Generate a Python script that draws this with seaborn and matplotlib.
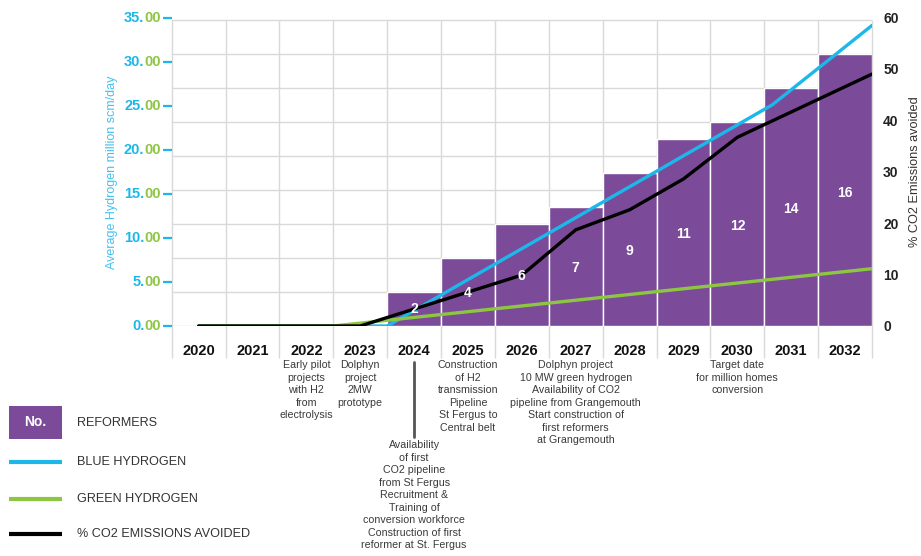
import matplotlib
matplotlib.use("Agg")
import matplotlib.pyplot as plt
import matplotlib.transforms as mtransforms
from matplotlib.patches import Rectangle
from matplotlib.lines import Line2D
import pandas as pd
import seaborn as sns

# ---------------- data ----------------
years = [2020, 2021, 2022, 2023, 2024, 2025, 2026, 2027, 2028, 2029, 2030, 2031, 2032]
reformer_years = [2024, 2025, 2026, 2027, 2028, 2029, 2030, 2031, 2032]
reformers = [2, 4, 6, 7, 9, 11, 12, 14, 16]

blue_x = [2020, 2023.5, 2030.65, 2032.5]
blue_h2 = [0.0, 0.0, 25.1, 34.1]

green_x = [2020, 2022.5, 2032.5]
green_h2 = [0.0, 0.0, 6.5]

co2_x = [2020, 2021, 2022, 2023, 2024, 2025, 2026, 2027, 2028, 2029, 2030, 2032.5]
co2_avoided = [0.0, 0.0, 0.0, 0.0, 3.3, 6.6, 9.9, 18.7, 22.6, 28.6, 36.7, 49.0]

h2_ticks = [0, 5, 10, 15, 20, 25, 30, 35]
co2_ticks = [0, 10, 20, 30, 40, 50, 60]
bar_grid = [0, 2, 4, 6, 8, 10, 12, 14, 16, 18]

milestone_years = [2022, 2023, 2024, 2025, 2027, 2030]
milestone_texts = [
    "Early pilot\nprojects\nwith H2\nfrom\nelectrolysis",
    "Dolphyn\nproject\n2MW\nprototype",
    "Availability\nof first\nCO2 pipeline\nfrom St Fergus\nRecruitment &\nTraining of\nconversion workforce\nConstruction of first\nreformer at St. Fergus",
    "Construction\nof H2\ntransmission\nPipeline\nSt Fergus to\nCentral belt",
    "Dolphyn project\n10 MW green hydrogen\nAvailability of CO2\npipeline from Grangemouth\nStart construction of\nfirst reformers\nat Grangemouth",
    "Target date\nfor million homes\nconversion",
]

legend_labels = ["REFORMERS", "BLUE HYDROGEN", "GREEN HYDROGEN", "% CO2 EMISSIONS AVOIDED"]

# ---------------- style ----------------
sns.set_style("white")
plt.rcParams["font.family"] = ["Liberation Sans", "DejaVu Sans"]

PURPLE = "#7b4b9a"
BLUE = "#1cb8ea"
GREEN = "#8dc641"
BLACK = "#000000"
GRID = "#d9d9d9"
TEXT = "#3a3a3a"

W, H = 921, 556
fig = plt.figure(figsize=(W / 100, H / 100), dpi=100)
ax_left_px, ax_right_px, ax_top_px, ax_bot_px = 171.7, 872.0, 17.5, 326.0
ax = fig.add_axes([ax_left_px / W, 1 - ax_bot_px / H,
                   (ax_right_px - ax_left_px) / W, (ax_bot_px - ax_top_px) / H])
ax_w_px = ax_right_px - ax_left_px
ax_h_px = ax_bot_px - ax_top_px

# ---------------- bars ----------------
df_bars = pd.DataFrame({"year": reformer_years, "reformers": reformers})
sns.barplot(data=df_bars, x="year", y="reformers", native_scale=True, width=1,
            color=PURPLE, saturation=1, edgecolor="white", linewidth=1,
            errorbar=None, ax=ax, zorder=2)
bar_top = max(bar_grid) * ax_h_px / (ax_h_px - 2.5)
ax.set_xlim(years[0] - 0.5, years[-1] + 0.5)
ax.set_ylim(0, bar_top)
ax.set_yticks(bar_grid)
ax.tick_params(axis="y", length=0, labelleft=False)
ax.yaxis.grid(True, color=GRID, lw=1)
ax.set_axisbelow(True)
for s in ax.spines.values():
    s.set_visible(False)
ax.set_xlabel("")
ax.set_ylabel("")

# vertical column separators (extend into the year row)
bounds = [y - 0.5 for y in years] + [years[-1] + 0.5]
ext = 32 / ax_h_px * bar_top
ax.vlines(bounds, -ext, max(bar_grid), colors=GRID, lw=1, zorder=0.5, clip_on=False)

# year labels
ax.set_xticks(years)
ax.set_xticklabels([str(y) for y in years], fontweight="bold", fontsize=10.5,
                   color="#111111")
ax.tick_params(axis="x", length=0, pad=13)

# ---------------- hydrogen axis (left) ----------------
ax_h = ax.twinx()
ax_h.set_ylim(0, 35)
ax_h.yaxis.set_ticks_position("left")
ax_h.set_yticks(h2_ticks)
ax_h.tick_params(axis="y", colors=BLUE, length=6.5, width=1.6,
                 labelleft=False, labelright=False)
for s in ax_h.spines.values():
    s.set_visible(False)
sns.lineplot(x=blue_x, y=blue_h2, ax=ax_h, color=BLUE, lw=2.4, zorder=3)
sns.lineplot(x=green_x, y=green_h2, ax=ax_h, color=GREEN, lw=2.4, zorder=4)
ax_h.set_xlabel("")
ax_h.set_ylabel("")

trans_h = mtransforms.blended_transform_factory(ax_h.transAxes, ax_h.transData)
for v in h2_ticks:
    ip, dp = f"{v:.2f}".split(".")
    t = ax_h.text(-10.7 / ax_w_px, v, dp, color=GREEN, fontsize=10.5,
                  fontweight="bold", ha="right", va="center", transform=trans_h,
                  clip_on=False)
    ax_h.annotate(ip + ".", xy=(0, 0.5), xycoords=t, ha="right", va="center",
                  color=BLUE, fontsize=10.5, fontweight="bold", annotation_clip=False)

# ---------------- CO2 axis (right) ----------------
ax_c = ax.twinx()
ax_c.set_ylim(0, 60)
ax_c.set_yticks(co2_ticks)
ax_c.set_yticklabels([str(v) for v in co2_ticks], fontweight="bold")
ax_c.tick_params(axis="y", length=0, pad=8, labelsize=10, labelcolor="#222222")
for s in ax_c.spines.values():
    s.set_visible(False)
sns.lineplot(x=co2_x, y=co2_avoided, ax=ax_c, color=BLACK, lw=2.4, zorder=5)
ax_c.set_xlabel("")
ax_c.set_ylabel("")
ax_c.set_xlim(years[0] - 0.5, years[-1] + 0.5)

# bar value labels, drawn on the top-most axes so they sit above the lines
for rect, val in zip(ax.patches, reformers):
    ax_c.text(rect.get_x() + rect.get_width() / 2, rect.get_height() * 0.49,
              str(val), transform=ax.transData, color="white",
              fontweight="bold", fontsize=10, ha="center", va="center", zorder=10)

# axis titles
fig.text(112 / W, 1 - 172 / H, "Average Hydrogen million scm/day", rotation=90,
         ha="center", va="center", color="#45c1ee", fontsize=9)
fig.text(915 / W, 1 - 172 / H, "% CO2 Emissions avoided", rotation=90,
         ha="center", va="center", color="#333333", fontsize=9.2)

# ---------------- milestone annotations ----------------
def frac_below(px):
    return -(px - ax_bot_px) / ax_h_px

for yr, txt in zip(milestone_years, milestone_texts):
    if yr == 2024:
        ax.plot([yr, yr], [frac_below(362), frac_below(437)], color="#555555",
                lw=2, transform=ax.get_xaxis_transform(), clip_on=False)
        top = frac_below(440)
    else:
        top = frac_below(360)
    ax.annotate(txt, xy=(yr, top), xycoords=("data", "axes fraction"),
                ha="center", va="top", fontsize=7.7, color=TEXT,
                linespacing=1.32, annotation_clip=False)

# ---------------- legend ----------------
fig.add_artist(Rectangle((9 / W, 1 - 439 / H), 53 / W, 33 / H,
                         transform=fig.transFigure, facecolor=PURPLE,
                         edgecolor="none"))
fig.text(35.5 / W, 1 - 422.5 / H, "No.", color="white", fontweight="bold",
         fontsize=10, ha="center", va="center")
legend_y = [423, 462, 499, 534]
for yy, col in zip(legend_y[1:], [BLUE, GREEN, BLACK]):
    fig.add_artist(Line2D([9 / W, 62 / W], [1 - yy / H, 1 - yy / H], color=col,
                          lw=3, transform=fig.transFigure, solid_capstyle="butt"))
for yy, lab in zip(legend_y, legend_labels):
    fig.text(77 / W, 1 - yy / H, lab, color="#333333", fontsize=9.1,
             ha="left", va="center")

fig.savefig("out.png", dpi=100)
